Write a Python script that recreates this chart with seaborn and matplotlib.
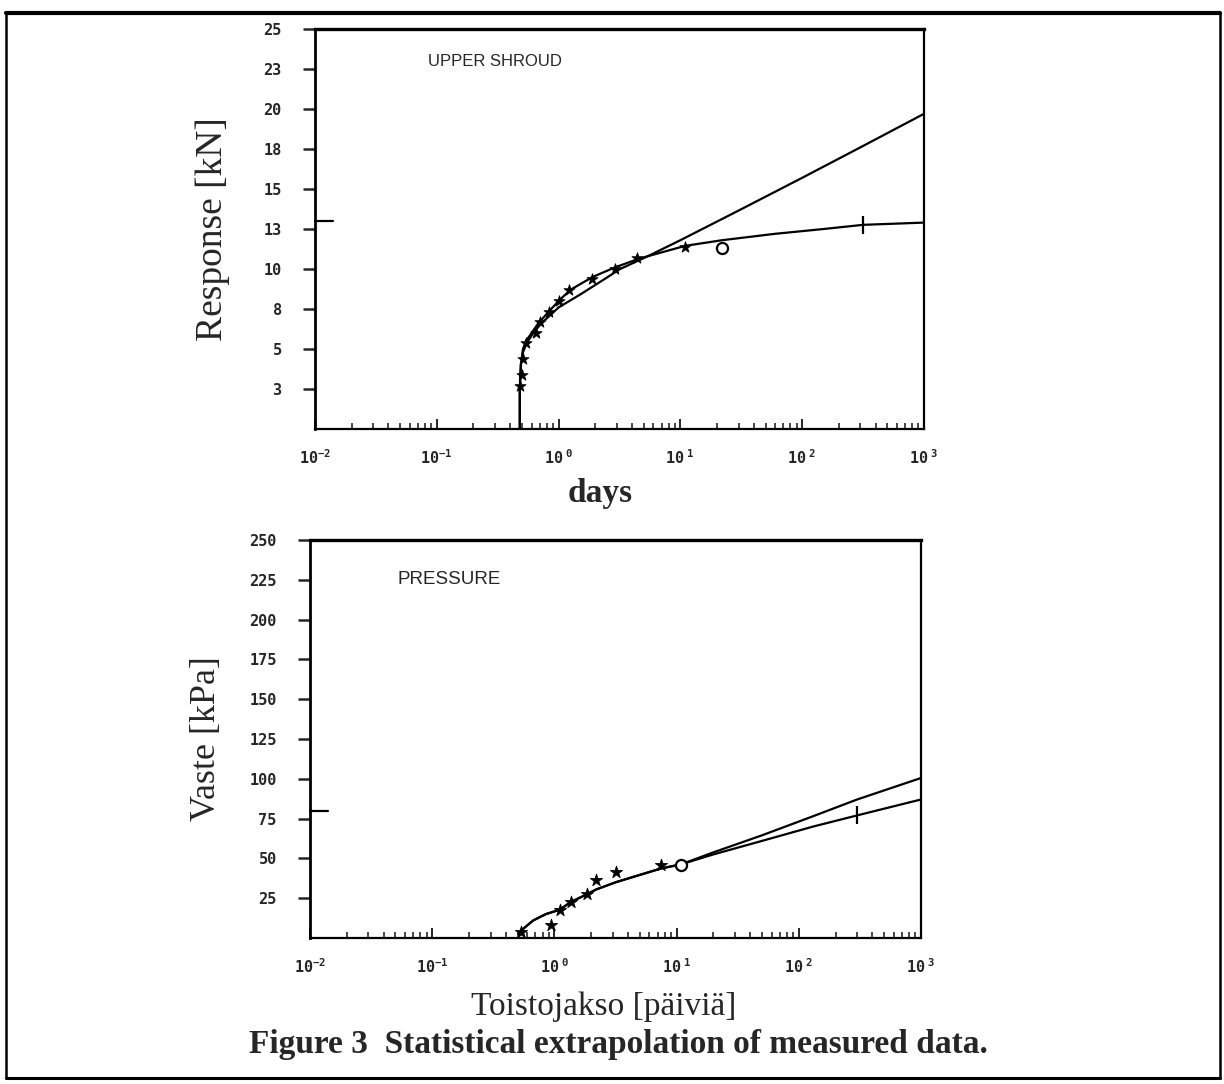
import matplotlib
matplotlib.use("Agg")
import matplotlib.pyplot as plt
import seaborn as sns
from matplotlib.lines import Line2D
from matplotlib.ticker import FixedLocator, FixedFormatter, LogLocator, NullFormatter

# ---------------- upper shroud: response [kN] against return period [days]
shroud_days = [0.48, 0.50, 0.51, 0.54, 0.65, 0.71, 0.83, 1.0, 1.22, 1.89, 2.9, 4.4, 11.0]
shroud_kn = [2.7, 3.4, 4.4, 5.4, 6.0, 6.7, 7.3, 8.0, 8.7, 9.4, 10.0, 10.7, 11.4]
shroud_open_days = [22.0]
shroud_open_kn = [11.3]
shroud_est_days = [316.0]
shroud_est_kn = [12.76]

# extrapolation that keeps rising
shroud_fit_a_days = [0.48, 0.48, 0.49, 0.51, 0.55, 0.62, 0.72, 0.85, 1.0, 1.5, 2.2,
                     3.2, 5.4, 10.0, 30.0, 100.0, 300.0, 1000.0]
shroud_fit_a_kn = [0.0, 2.5, 4.0, 4.8, 5.4, 6.0, 6.6, 7.1, 7.6, 8.4, 9.2,
                   10.0, 10.8, 11.8, 13.65, 15.7, 17.6, 19.7]
# extrapolation that levels off
shroud_fit_b_days = [0.48, 0.48, 0.49, 0.51, 0.54, 0.60, 0.68, 0.80, 1.0, 1.25, 1.9,
                     2.9, 4.4, 5.4, 11.0, 22.0, 60.0, 150.0, 316.0, 1000.0]
shroud_fit_b_kn = [0.0, 2.5, 4.0, 5.0, 5.5, 6.0, 6.6, 7.2, 8.0, 8.7, 9.5,
                   10.1, 10.6, 10.8, 11.45, 11.8, 12.2, 12.5, 12.76, 12.9]
shroud_ref_level = 13.0

# ---------------- pressure: response [kPa] against return period [days]
press_days = [0.53, 0.93, 1.11, 1.36, 1.84, 2.2, 3.2, 7.4]
press_kpa = [4.0, 8.0, 17.8, 22.6, 27.4, 36.6, 41.4, 46.1]
press_open_days = [10.9]
press_open_kpa = [45.7]
press_est_days = [300.0]
press_est_kpa = [77.0]

press_fit_a_days = [0.51, 0.56, 0.67, 0.85, 1.11, 1.36, 1.84, 2.2, 3.2, 7.4, 10.9,
                    20.0, 50.0, 131.0, 300.0, 1000.0]
press_fit_a_kpa = [2.5, 6.0, 11.0, 15.0, 17.8, 22.6, 27.4, 30.5, 35.1, 43.6, 46.3,
                   53.8, 64.5, 76.5, 87.0, 100.5]
press_fit_b_days = [0.51, 0.56, 0.67, 0.85, 1.11, 1.36, 1.84, 2.2, 3.2, 7.4, 10.9,
                    20.0, 50.0, 131.0, 300.0, 1000.0]
press_fit_b_kpa = [2.5, 6.0, 11.0, 15.0, 17.8, 22.6, 27.4, 30.5, 35.1, 43.6, 46.3,
                   52.5, 61.0, 70.0, 77.0, 87.0]
press_ref_level = 80.0

# ---------------- axis ticks
decades = [1e-2, 1e-1, 1e0, 1e1, 1e2, 1e3]
decade_labels = [r"$\mathregular{10^{-2}}$", r"$\mathregular{10^{-1}}$", r"$\mathregular{10^{\ 0}}$",
                 r"$\mathregular{10^{\ 1}}$", r"$\mathregular{10^{\ 2}}$", r"$\mathregular{10^{\ 3}}$"]
shroud_ticks = [2.5, 5.0, 7.5, 10.0, 12.5, 15.0, 17.5, 20.0, 22.5, 25.0]
shroud_tick_labels = ["3", "5", "8", "10", "13", "15", "18", "20", "23", "25"]
press_ticks = [25, 50, 75, 100, 125, 150, 175, 200, 225, 250]
press_tick_labels = ["25", "50", "75", "100", "125", "150", "175", "200", "225", "250"]

sns.set_style("white")
plt.rcParams["font.family"] = ["DejaVu Sans"]

W, H = 1224, 1084
fig = plt.figure(figsize=(W / 100, H / 100), dpi=100)
fig.patch.set_facecolor("white")

ax1 = fig.add_axes([315 / W, 1 - 429 / H, 609 / W, 400 / H])
ax2 = fig.add_axes([310 / W, 1 - 938 / H, 611 / W, 398 / H])

tick_font = dict(family="DejaVu Sans Mono", weight="bold", size=11)
serif = "Liberation Serif"


def style_axes(ax, yticks, ylabels, ymax):
    ax.set_xscale("log")
    ax.set_xlim(1e-2, 1e3)
    ax.set_ylim(0, ymax)
    ax.xaxis.set_major_locator(FixedLocator(decades))
    ax.xaxis.set_major_formatter(FixedFormatter(decade_labels))
    ax.xaxis.set_minor_locator(LogLocator(base=10, subs=range(2, 10), numticks=20))
    ax.xaxis.set_minor_formatter(NullFormatter())
    ax.yaxis.set_major_locator(FixedLocator(yticks))
    ax.yaxis.set_major_formatter(FixedFormatter(ylabels))
    ax.tick_params(axis="y", which="major", direction="out", length=9, width=1.8,
                   pad=15, left=True, right=False)
    ax.tick_params(axis="x", which="major", direction="in", length=7, width=1.4,
                   pad=14, bottom=True, top=False)
    ax.tick_params(axis="x", which="minor", direction="in", length=4, width=1.2,
                   bottom=True, top=False)
    for lab in ax.get_xticklabels() + ax.get_yticklabels():
        lab.set_fontfamily(tick_font["family"])
        lab.set_fontweight(tick_font["weight"])
        lab.set_fontsize(tick_font["size"])
    for name, sp in ax.spines.items():
        sp.set_visible(True)
        sp.set_color("black")
        sp.set_linewidth(1.6)
        sp.set_zorder(5)
    ax.spines["left"].set_linewidth(2.0)
    ax.spines["top"].set_linewidth(2.4)
    ax.grid(False)


line_kw = dict(color="black", linewidth=1.6, sort=False, estimator=None, legend=False)

# upper shroud panel
sns.lineplot(x=shroud_fit_a_days, y=shroud_fit_a_kn, ax=ax1, **line_kw)
sns.lineplot(x=shroud_fit_b_days, y=shroud_fit_b_kn, ax=ax1, **line_kw)
sns.scatterplot(x=shroud_days, y=shroud_kn, ax=ax1, marker="*", s=70,
                color="black", edgecolor="black", linewidth=0.6, legend=False, zorder=3)
ax1.plot(shroud_open_days, shroud_open_kn, linestyle="none", marker="o", ms=8,
         mfc="white", mec="black", mew=1.6, zorder=4)
ax1.plot(shroud_est_days, shroud_est_kn, linestyle="none", marker="|", ms=13,
         mec="black", mew=1.6, zorder=4)
ax1.plot([0, 0.03], [shroud_ref_level, shroud_ref_level], color="black", lw=1.6,
         transform=ax1.get_yaxis_transform(), clip_on=False)
style_axes(ax1, shroud_ticks, shroud_tick_labels, 25)
ax1.text(0.186, 0.918, "UPPER SHROUD", transform=ax1.transAxes, fontsize=12,
         family="Liberation Sans", va="center", ha="left")
ax1.set_ylabel("Response [kN]", fontsize=27, family=serif)
ax1.yaxis.label.set_va("center")
ax1.yaxis.set_label_coords(-0.168, 0.5)
ax1.set_xlabel("days", fontsize=24, family=serif, weight="bold")
ax1.xaxis.label.set_va("center")
ax1.xaxis.set_label_coords(0.468, -0.162)

# pressure panel
sns.lineplot(x=press_fit_a_days, y=press_fit_a_kpa, ax=ax2, **line_kw)
sns.lineplot(x=press_fit_b_days, y=press_fit_b_kpa, ax=ax2, **line_kw)
sns.scatterplot(x=press_days, y=press_kpa, ax=ax2, marker="*", s=85,
                color="black", edgecolor="black", linewidth=0.6, legend=False, zorder=3)
ax2.plot(press_open_days, press_open_kpa, linestyle="none", marker="o", ms=8,
         mfc="white", mec="black", mew=1.6, zorder=4)
ax2.plot(press_est_days, press_est_kpa, linestyle="none", marker="|", ms=13,
         mec="black", mew=1.6, zorder=4)
ax2.plot([0, 0.03], [press_ref_level, press_ref_level], color="black", lw=1.6,
         transform=ax2.get_yaxis_transform(), clip_on=False)
style_axes(ax2, press_ticks, press_tick_labels, 250)
ax2.text(0.144, 0.90, "PRESSURE", transform=ax2.transAxes, fontsize=13.5,
         family="Liberation Sans", va="center", ha="left")
ax2.set_ylabel("Vaste [kPa]", fontsize=26, family=serif)
ax2.yaxis.label.set_va("center")
ax2.yaxis.set_label_coords(-0.170, 0.5)
ax2.set_xlabel("Toistojakso [päiviä]", fontsize=24, family=serif)
ax2.xaxis.label.set_va("center")
ax2.xaxis.set_label_coords(0.48, -0.173)

# caption and page frame
fig.text(618 / W, 1 - 1045 / H, "Figure 3  Statistical extrapolation of measured data.",
         ha="center", va="center", fontsize=24, family=serif, weight="bold")
frame = [((6 / W, 1220 / W), (1 - 13 / H, 1 - 13 / H), 3.0),
         ((6 / W, 6 / W), (1 - 13 / H, 1 - 1078 / H), 1.8),
         ((1220 / W, 1220 / W), (1 - 13 / H, 1 - 1078 / H), 1.8),
         ((6 / W, 1220 / W), (1 - 1078 / H, 1 - 1078 / H), 2.2)]
for xs, ys, lw in frame:
    fig.add_artist(Line2D(xs, ys, color="black", linewidth=lw, transform=fig.transFigure))

fig.savefig("out.png", dpi=100, facecolor="white")
